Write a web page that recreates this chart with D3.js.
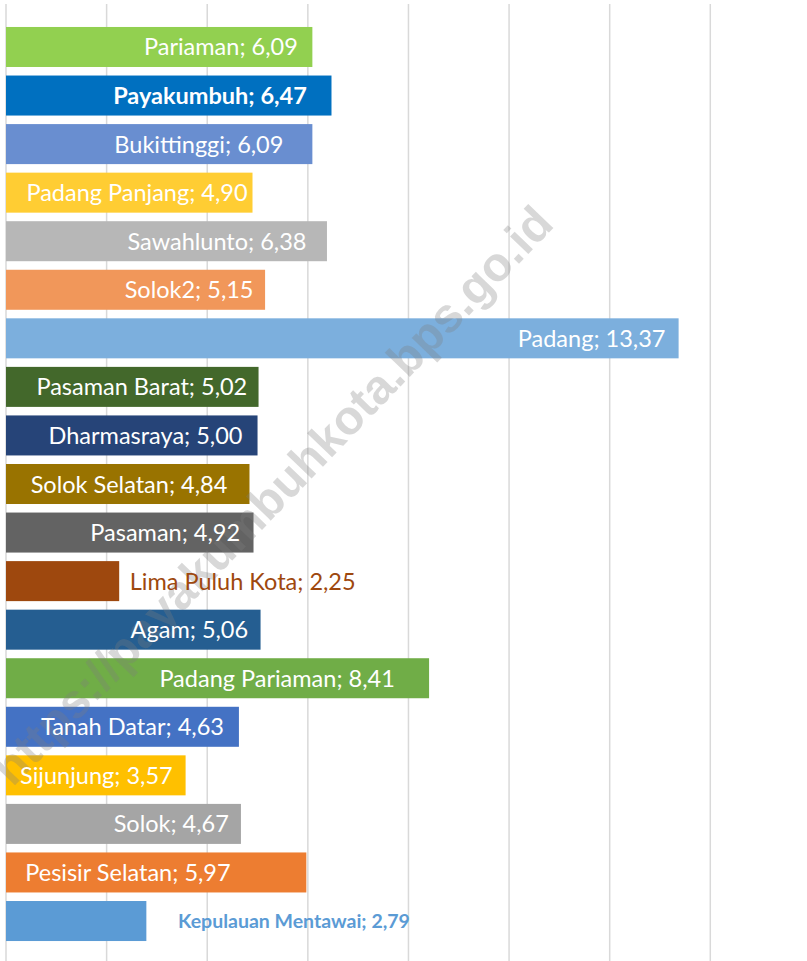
<!DOCTYPE html>
<html>
<head>
<meta charset="utf-8">
<script src="https://cdn.jsdelivr.net/npm/d3@7"></script>
<style>
  html, body { margin: 0; padding: 0; background: #fff; }
  svg { display: block; }
</style>
</head>
<body>
<div id="chart"></div>
<script>
// data, top to bottom as in the chart
const regions = ["Pariaman", "Payakumbuh", "Bukittinggi", "Padang Panjang", "Sawahlunto", "Solok2",
    "Padang", "Pasaman Barat", "Dharmasraya", "Solok Selatan", "Pasaman", "Lima Puluh Kota",
    "Agam", "Padang Pariaman", "Tanah Datar", "Sijunjung", "Solok", "Pesisir Selatan", "Kepulauan Mentawai"]
const values = [6.09, 6.47, 6.09, 4.90, 6.38, 5.15, 13.37, 5.02, 5.00, 4.84, 4.92, 2.25,
    5.06, 8.41, 4.63, 3.57, 4.67, 5.97, 2.79]
const xTicks = [0, 2, 4, 6, 8, 10, 12, 14]

// styling per bar (kept apart from the data)
const colors = ["#92d050", "#0070c0", "#698ed0", "#ffcd33", "#b7b7b7", "#f1975a",
    "#7cafdd", "#43682b", "#264478", "#997300", "#636363", "#9e480e",
    "#255e91", "#70ad47", "#4472c4", "#ffc000", "#a5a5a5", "#ed7d31", "#5b9bd5"]
// distance from bar end to the label centre (negative = label sits right of the bar)
const labelShift = [91.5, 121.5, 113.5, 115.5, 110, 76, 87, 116.7, 112, 120.5, 88.3, -123.5,
    71.2, 152, 106.5, 89.2, 69.7, 178.4, -147.6]

const width = 807
const height = 961

document.addEventListener("DOMContentLoaded", draw)

function draw(){
    const svg = d3.select("#chart").append("svg")
        .attr("width", width)
        .attr("height", height)

    const x = d3.scaleLinear()
        .domain([0, 14])
        .range([6, 710.3])

    const y = d3.scaleBand()
        .domain(regions)
        .range([22.7, 945.3])
        .paddingInner(0.176)
        .paddingOuter(0.088)

    // vertical gridlines
    svg.append("g")
        .selectAll("line")
        .data(xTicks)
        .enter()
        .append("line")
        .attr("x1", d => x(d))
        .attr("x2", d => x(d))
        .attr("y1", 4)
        .attr("y2", height)
        .style("stroke", "#d9d9d9")
        .style("stroke-width", 1.5)

    const rows = regions.map((name, i) => ({name: name, value: values[i], i: i}))

    svg.append("g")
        .selectAll("rect")
        .data(rows)
        .enter()
        .append("rect")
        .attr("x", x(0))
        .attr("y", d => y(d.name))
        .attr("width", d => x(d.value) - x(0))
        .attr("height", y.bandwidth())
        .style("fill", d => colors[d.i])

    // watermark
    svg.append("text")
        .attr("transform", "translate(272,495) rotate(-46)")
        .attr("text-anchor", "middle")
        .attr("dy", 17)
        .style("font-family", "'Liberation Sans', Arial, sans-serif")
        .style("font-weight", "bold")
        .style("font-size", "48px")
        .style("fill", "#7f7f7f")
        .style("fill-opacity", 0.3)
        .text("https://payakumbuhkota.bps.go.id")

    const fmt = v => v.toFixed(2).replace(".", ",")

    svg.append("g")
        .selectAll("text")
        .data(rows)
        .enter()
        .append("text")
        .attr("x", d => x(d.value) - labelShift[d.i])
        .attr("y", d => y(d.name) + y.bandwidth() / 2)
        .attr("dy", d => d.name === "Kepulauan Mentawai" ? 7 : 8.5)
        .attr("text-anchor", "middle")
        .style("font-family", "Lato, 'Open Sans', sans-serif")
        .style("font-size", d => d.name === "Kepulauan Mentawai" ? "19.5px" : "23.5px")
        .style("font-weight", d => (d.name === "Payakumbuh" || d.name === "Kepulauan Mentawai") ? "bold" : "normal")
        .style("fill", d => {
            if (d.name === "Lima Puluh Kota") return "#9e480e"
            if (d.name === "Kepulauan Mentawai") return "#5b9bd5"
            return "#ffffff"
        })
        .text(d => d.name + "; " + fmt(d.value))
}
</script>
</body>
</html>
